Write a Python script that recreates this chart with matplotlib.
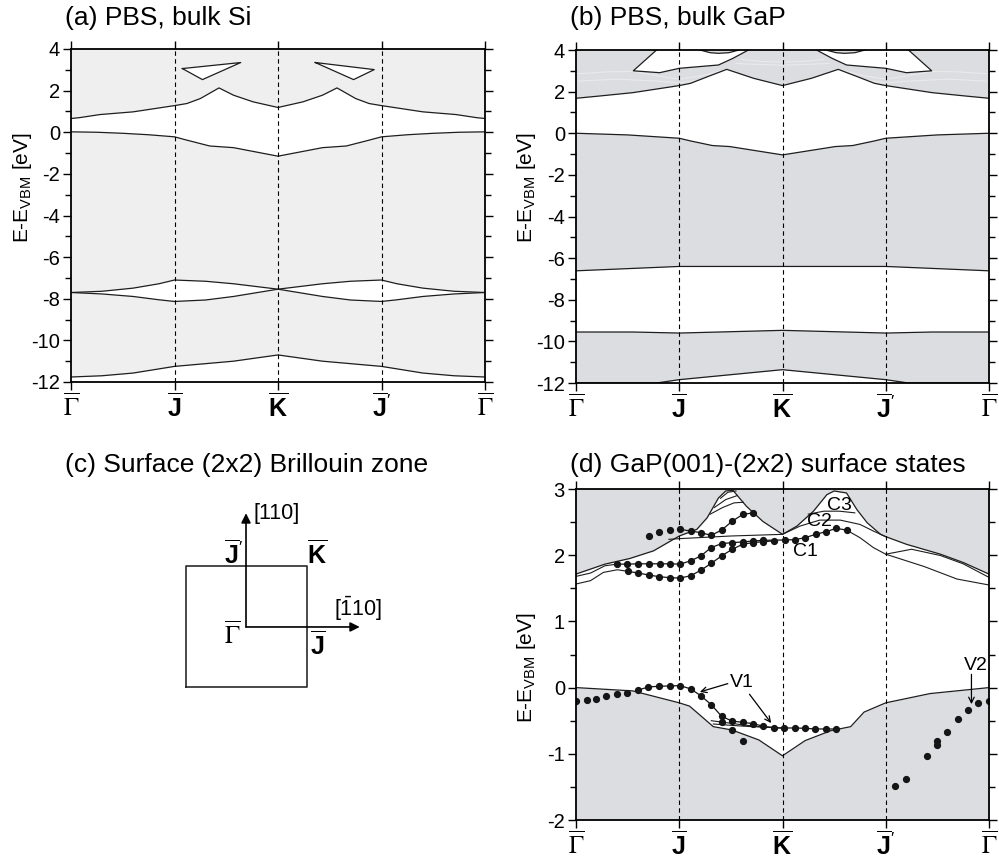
import numpy as np
import matplotlib
matplotlib.use('Agg')
import matplotlib.pyplot as plt
from matplotlib.ticker import MultipleLocator

plt.rcParams['font.family'] = ['Liberation Sans', 'DejaVu Sans']
plt.rcParams['mathtext.fontset'] = 'custom'
plt.rcParams['mathtext.rm'] = 'Liberation Sans'
plt.rcParams['mathtext.bf'] = 'Liberation Sans:bold'
plt.rcParams['mathtext.it'] = 'Liberation Sans:italic'
plt.rcParams['axes.unicode_minus'] = False

# k-path
k_pos = [0, 1, 2, 3, 4]
k_labels = [r'$\overline{\Gamma}$', r'$\overline{\mathbf{J}}$', r'$\overline{\mathbf{K}}$',
            r'$\overline{\mathbf{J}}^{\prime}$', r'$\overline{\Gamma}$']

# ---- (a) bulk Si projected bands ----
a_vb_x = [0, 0.25, 0.5, 0.75, 1.0, 1.12, 1.34, 1.57, 2.0, 2.43, 2.66, 2.88, 3.0, 3.25, 3.5, 3.75, 4.0]
a_vb = [0.02, 0.0, -0.05, -0.12, -0.22, -0.38, -0.66, -0.74, -1.15, -0.74, -0.66, -0.38, -0.22, -0.12, -0.05, 0.0, 0.02]
a_cb_x = [0, 0.08, 0.28, 0.6, 1.0, 1.12, 1.25, 1.43, 1.57, 1.76, 2.0, 2.24, 2.43, 2.57, 2.75, 2.88, 3.0, 3.4, 3.72, 3.92, 4.0]
a_cb = [0.66, 0.70, 0.85, 0.98, 1.28, 1.38, 1.62, 2.13, 1.78, 1.46, 1.19, 1.46, 1.78, 2.13, 1.62, 1.38, 1.28, 0.98, 0.85, 0.70, 0.66]
a_tri_l_x = [1.076, 1.64, 1.27]
a_tri_l_y = [3.06, 3.35, 2.53]
a_tri_r_x = [2.36, 2.93, 2.73]
a_tri_r_y = [3.35, 3.01, 2.53]
a_lens_x = [0, 0.3, 0.6, 0.85, 1.0, 1.3, 1.57, 2.0, 2.43, 2.7, 3.0, 3.15, 3.4, 3.7, 4.0]
a_lens_up = [-7.70, -7.64, -7.49, -7.28, -7.10, -7.16, -7.28, -7.54, -7.28, -7.16, -7.10, -7.28, -7.49, -7.64, -7.70]
a_lens_lo = [-7.70, -7.77, -7.89, -8.05, -8.13, -8.06, -7.89, -7.54, -7.89, -8.06, -8.13, -8.05, -7.89, -7.77, -7.70]
a_low_x = [0, 0.3, 0.6, 1.0, 1.57, 2.0, 2.43, 3.0, 3.4, 3.7, 4.0]
a_low = [-11.76, -11.70, -11.57, -11.25, -11.0, -10.70, -11.0, -11.25, -11.57, -11.70, -11.76]

# ---- (b) bulk GaP projected bands ----
b_vb_x = [0, 0.5, 1.0, 1.11, 1.32, 1.49, 2.0, 2.51, 2.68, 2.89, 3.0, 3.5, 4.0]
b_vb = [0.0, -0.08, -0.24, -0.37, -0.59, -0.64, -1.04, -0.64, -0.59, -0.37, -0.24, -0.08, 0.0]
b_cb_x = [0, 0.23, 0.55, 1.0, 1.11, 1.26, 1.46, 1.72, 2.0, 2.28, 2.54, 2.74, 2.89, 3.0, 3.45, 3.77, 4.0]
b_cb = [1.68, 1.79, 1.95, 2.29, 2.40, 2.69, 3.07, 2.64, 2.29, 2.64, 3.07, 2.69, 2.40, 2.29, 1.95, 1.79, 1.68]
b_hole_l_x = [0.78, 0.555, 0.81, 1.0, 1.38, 1.52, 1.67]
b_hole_l_y = [4.0, 3.0, 2.91, 3.12, 3.28, 3.6, 4.0]
b_hole_r_x = [3.22, 3.445, 3.2, 3.0, 2.62, 2.48, 2.33]
b_hole_r_y = [4.0, 3.0, 2.91, 3.12, 3.28, 3.6, 4.0]
b_lens_l_x = [1.2, 1.3, 1.38, 1.48, 1.58]
b_lens_l_y = [4.0, 3.87, 3.84, 3.87, 4.0]
b_lens_r_x = [2.42, 2.52, 2.6, 2.7, 2.8]
b_lens_r_y = [4.0, 3.87, 3.84, 3.87, 4.0]
b_gap_top_x = [0, 1.0, 2.0, 3.0, 4.0]
b_gap_top = [-6.61, -6.40, -6.40, -6.40, -6.61]
b_gap_bot_x = [0, 0.55, 1.0, 2.0, 3.0, 3.45, 4.0]
b_gap_bot = [-9.55, -9.55, -9.60, -9.47, -9.60, -9.55, -9.55]
b_low_x = [0, 0.78, 1.0, 2.0, 3.0, 3.22, 4.0]
b_low = [-12.0, -12.0, -11.84, -11.36, -11.84, -12.0, -12.0]
# faint resonance lines inside the gray region
b_faint = [
    ([0, 0.3, 0.55, 0.8, 1.0, 1.2, 1.4], [2.85, 2.95, 2.97, 2.75, 2.6, 2.75, 3.0]),
    ([0, 0.4, 0.8, 1.0, 1.2], [2.5, 2.6, 2.5, 2.42, 2.55]),
    ([1.6, 1.8, 2.0, 2.2, 2.4], [3.55, 3.45, 3.42, 3.45, 3.55]),
    ([1.55, 1.8, 2.0, 2.2, 2.45], [3.35, 3.3, 3.27, 3.3, 3.35]),
    ([4.0, 3.7, 3.45, 3.2, 3.0, 2.8, 2.6], [2.85, 2.95, 2.97, 2.75, 2.6, 2.75, 3.0]),
    ([4.0, 3.6, 3.2, 3.0, 2.8], [2.5, 2.6, 2.5, 2.42, 2.55]),
]

# ---- (d) GaP(001)-(2x2) surface states ----
d_vb_x = [0, 0.55, 1.0, 1.1, 1.33, 1.51, 1.77, 2.0, 2.22, 2.47, 2.66, 2.79, 3.0, 3.43, 4.0]
d_vb = [0.0, -0.05, -0.23, -0.28, -0.59, -0.64, -0.79, -1.03, -0.80, -0.65, -0.59, -0.37, -0.23, -0.09, 0.0]
d_cb_x = [0, 0.28, 0.52, 0.75, 1.0, 1.17, 1.27, 1.38, 1.45, 1.52, 1.65, 1.81, 2.0,
          2.14, 2.30, 2.43, 2.5, 2.62, 2.72, 2.82, 2.95, 3.0, 3.2, 3.53, 3.75, 4.0]
d_cb = [1.715, 1.865, 1.95, 2.065, 2.29, 2.39, 2.565, 2.865, 2.97, 2.98, 2.74, 2.51, 2.315,
        2.44, 2.665, 2.915, 2.97, 2.94, 2.69, 2.49, 2.315, 2.28, 2.165, 2.015, 1.89, 1.715]
# thin calculated bands
d_thin = [
    ([0, 0.14, 0.28, 0.395], [1.68, 1.73, 1.84, 1.865]),
    ([0, 0.14, 0.265, 0.40, 0.507], [1.565, 1.615, 1.74, 1.78, 1.755]),
    ([0.9, 1.0, 1.5, 2.0], [2.24, 2.25, 2.29, 2.315]),
    ([1.30, 1.42, 1.53, 1.62], [2.62, 2.72, 2.79, 2.80]),
    ([1.34, 1.45, 1.56], [2.72, 2.84, 2.90]),
    ([1.40, 1.47, 1.55], [2.86, 2.95, 2.97]),
    ([2.0, 2.17, 2.36, 2.56, 2.75, 2.88, 3.0], [2.315, 2.44, 2.53, 2.53, 2.465, 2.365, 2.28]),
    ([2.25, 2.40, 2.55, 2.70], [2.62, 2.665, 2.665, 2.64]),
    ([2.62, 2.75, 2.88, 3.0, 3.37, 3.69, 4.0], [2.38, 2.265, 2.115, 2.015, 1.83, 1.64, 1.55]),
    ([3.0, 3.25, 3.53, 3.75, 4.0], [2.015, 2.09, 1.995, 1.87, 1.665]),
    ([1.31, 1.41, 1.6, 1.8, 2.0], [-0.50, -0.52, -0.56, -0.595, -0.61]),
    ([1.33, 1.5, 1.7, 1.9], [-0.55, -0.57, -0.59, -0.60]),
]
# measured surface states (dots)
c_up_free_x = [0.707, 0.807, 0.911]
c_up_free = [2.29, 2.35, 2.38]
c_up_x = [1.008, 1.111, 1.211, 1.308, 1.411, 1.514, 1.615, 1.715]
c_up = [2.39, 2.365, 2.34, 2.30, 2.38, 2.515, 2.615, 2.64]
c_a_x = [0.395, 0.498, 0.605, 0.709, 0.809, 0.911, 1.008, 1.111, 1.211, 1.308, 1.411, 1.514, 1.614, 1.715, 1.815]
c_a = [1.865, 1.865, 1.87, 1.87, 1.87, 1.87, 1.865, 1.915, 1.99, 2.115, 2.175, 2.19, 2.20, 2.215, 2.225]
c_b_x = [0.507, 0.604, 0.707, 0.807, 0.911, 1.008, 1.111, 1.211, 1.308, 1.411, 1.514, 1.614, 1.715, 1.815, 1.915]
c_b = [1.755, 1.73, 1.70, 1.675, 1.66, 1.655, 1.69, 1.775, 1.875, 1.99, 2.09, 2.165, 2.19, 2.205, 2.215]
c1_x = [2.02, 2.12, 2.22, 2.32, 2.42, 2.52, 2.62]
c1 = [2.23, 2.235, 2.265, 2.315, 2.355, 2.405, 2.38]
v1_free_x = [0, 0.102, 0.198, 0.294, 0.397, 0.496]
v1_free = [-0.2, -0.19, -0.167, -0.131, -0.10, -0.076]
v1_x = [0.598, 0.70, 0.804, 0.911, 1.008, 1.111, 1.211, 1.311, 1.411, 1.512, 1.615, 1.718,
        1.815, 1.919, 2.019, 2.119, 2.219, 2.319, 2.419, 2.52]
v1 = [-0.04, 0.01, 0.02, 0.025, 0.03, -0.02, -0.125, -0.26, -0.435, -0.505, -0.525, -0.545,
      -0.585, -0.61, -0.61, -0.61, -0.615, -0.625, -0.625, -0.625]
v1_low_x = [1.411, 1.512, 1.615]
v1_low = [-0.52, -0.645, -0.80]
v2_x = [3.094, 3.197, 3.398, 3.494, 3.494, 3.597, 3.696, 3.795, 3.898, 4.0]
v2 = [-1.48, -1.38, -1.035, -0.80, -0.864, -0.67, -0.48, -0.333, -0.227, -0.2]

# ---- (c) surface Brillouin zone ----
bz_x = [-1, 1, 1, -1, -1]
bz_y = [-1, -1, 1, 1, -1]

W, H = 999, 860
gray_a = '#efefef'
gray_b = '#dcdde0'
band_c = '#1e1e1e'
fs_k = 18


def px(x, y):
    return x / W, 1 - y / H


def style(ax, ylo, yhi, major, minor):
    ax.set_xlim(0, 4)
    ax.set_ylim(ylo, yhi)
    ax.set_xticks(k_pos)
    ax.set_xticklabels(k_labels)
    ax.yaxis.set_major_locator(MultipleLocator(major))
    ax.yaxis.set_minor_locator(MultipleLocator(minor))
    ax.tick_params(which='both', direction='out', top=True, right=True, width=1)
    ax.tick_params(which='major', length=6)
    ax.tick_params(which='minor', length=4)
    ax.tick_params(axis='y', labelsize=14.5, pad=2)
    ax.tick_params(axis='x', labelsize=fs_k, pad=2)
    for i in (0, 4):
        ax.get_xticklabels()[i].set_math_fontfamily('stix')
    for s in ax.spines.values():
        s.set_linewidth(1.3)
        s.set_zorder(6)
    for k in (1, 2, 3):
        ax.axvline(k, color='k', lw=0.8, ls=(0, (4, 3)), zorder=3)


fig = plt.figure(figsize=(W / 100, H / 100), dpi=100)

# (a)
ax_a = fig.add_axes([71 / W, 1 - 382 / H, 414 / W, 333 / H])
ax_a.set_facecolor(gray_a)
ax_a.fill(np.r_[a_vb_x, a_cb_x[::-1]], np.r_[a_vb, a_cb[::-1]], color='white', lw=0, zorder=1)
ax_a.fill(a_tri_l_x, a_tri_l_y, color='white', lw=0, zorder=1)
ax_a.fill(a_tri_r_x, a_tri_r_y, color='white', lw=0, zorder=1)
ax_a.fill(np.r_[a_lens_x, a_lens_x[::-1]], np.r_[a_lens_up, a_lens_lo[::-1]], color='white', lw=0, zorder=1)
ax_a.fill_between(a_low_x, a_low, -12, color='white', lw=0, zorder=1)
for xs, ys in [(a_vb_x, a_vb), (a_cb_x, a_cb), (a_lens_x, a_lens_up), (a_lens_x, a_lens_lo), (a_low_x, a_low)]:
    ax_a.plot(xs, ys, color=band_c, lw=0.9, zorder=2)
ax_a.plot(a_tri_l_x + a_tri_l_x[:1], a_tri_l_y + a_tri_l_y[:1], color=band_c, lw=0.9, zorder=2)
ax_a.plot(a_tri_r_x + a_tri_r_x[:1], a_tri_r_y + a_tri_r_y[:1], color=band_c, lw=0.9, zorder=2)
style(ax_a, -12, 4, 2, 1)

# (b)
ax_b = fig.add_axes([576 / W, 1 - 383 / H, 413 / W, 333 / H])
ax_b.set_facecolor(gray_b)
for xs, ys in b_faint:
    ax_b.plot(xs, ys, color='#eaeaec', lw=0.8, zorder=0.5)
ax_b.fill(np.r_[b_vb_x, b_cb_x[::-1]], np.r_[b_vb, b_cb[::-1]], color='white', lw=0, zorder=1)
ax_b.fill(b_hole_l_x, b_hole_l_y, color='white', lw=0, zorder=1)
ax_b.fill(b_hole_r_x, b_hole_r_y, color='white', lw=0, zorder=1)
ax_b.fill(b_lens_l_x, b_lens_l_y, color=gray_b, lw=0, zorder=1.2)
ax_b.fill(b_lens_r_x, b_lens_r_y, color=gray_b, lw=0, zorder=1.2)
ax_b.fill(np.r_[b_gap_top_x, b_gap_bot_x[::-1]], np.r_[b_gap_top, b_gap_bot[::-1]], color='white', lw=0, zorder=1)
ax_b.fill_between(b_low_x, b_low, -12.2, color='white', lw=0, zorder=1)
for xs, ys in [(b_vb_x, b_vb), (b_cb_x, b_cb), (b_hole_l_x, b_hole_l_y), (b_hole_r_x, b_hole_r_y),
               (b_lens_l_x, b_lens_l_y), (b_lens_r_x, b_lens_r_y), (b_gap_top_x, b_gap_top),
               (b_gap_bot_x, b_gap_bot), (b_low_x, b_low)]:
    ax_b.plot(xs, ys, color=band_c, lw=0.9, zorder=2)
style(ax_b, -12, 4, 2, 1)

# (d)
ax_d = fig.add_axes([576 / W, 1 - 820 / H, 413 / W, 331 / H])
ax_d.fill_between(d_vb_x, d_vb, -2.2, color=gray_b, lw=0, zorder=1)
ax_d.fill_between(d_cb_x, d_cb, 3.2, color=gray_b, lw=0, zorder=1)
ax_d.plot(d_vb_x, d_vb, color=band_c, lw=0.9, zorder=2)
ax_d.plot(d_cb_x, d_cb, color=band_c, lw=0.9, zorder=2)
for xs, ys in d_thin:
    ax_d.plot(xs, ys, color=band_c, lw=0.8, zorder=2)
dot = dict(color='#151515', marker='o', ms=4.2, zorder=4)
ax_d.plot(c_up_free_x, c_up_free, ls='none', **dot)
ax_d.plot(c_up_x, c_up, lw=0.9, **dot)
ax_d.plot(c_a_x + c1_x, c_a + c1, lw=0.9, **dot)
ax_d.plot(c_b_x, c_b, lw=0.9, **dot)
ax_d.plot(v1_free_x, v1_free, ls='none', **dot)
ax_d.plot(v1_x, v1, lw=0.9, **dot)
ax_d.plot(v1_low_x, v1_low, ls='none', **dot)
ax_d.plot(v2_x, v2, ls='none', **dot)
arr = dict(arrowstyle='->', color='k', lw=0.9, shrinkA=0, shrinkB=0, mutation_scale=10)
ax_d.annotate('', xy=(1.20, -0.065), xytext=(1.47, 0.06), arrowprops=arr, zorder=5)
ax_d.annotate('', xy=(1.89, -0.535), xytext=(1.68, -0.10), arrowprops=arr, zorder=5)
ax_d.annotate('', xy=(3.83, -0.25), xytext=(3.83, 0.20), arrowprops=arr, zorder=5)
ax_d.text(1.61, 0.08, 'V1', fontsize=14, ha='center', va='center', zorder=5)
ax_d.text(3.87, 0.34, 'V2', fontsize=14, ha='center', va='center', zorder=5)
ax_d.text(2.22, 2.06, 'C1', fontsize=14, ha='center', va='center', zorder=5)
ax_d.text(2.36, 2.51, 'C2', fontsize=14, ha='center', va='center', zorder=5)
ax_d.text(2.55, 2.75, 'C3', fontsize=14, ha='center', va='center', zorder=5)
style(ax_d, -2, 3, 1, 0.5)

# (c)
ax_c = fig.add_axes([150 / W, 1 - 700 / H, 270 / W, 210 / H])
ax_c.set_xlim(-1.587, 2.876)
ax_c.set_ylim(-1.207, 2.264)
ax_c.axis('off')
ax_c.plot(bz_x, bz_y, color='#2a2a2a', lw=1.2)
arr_c = dict(arrowstyle='-|>', color='k', lw=1.2, shrinkA=0, shrinkB=0, mutation_scale=14)
ax_c.annotate('', xy=(0, 1.88), xytext=(0, 0), arrowprops=arr_c)
ax_c.annotate('', xy=(1.88, 0), xytext=(0, 0), arrowprops=arr_c)
ax_c.text(0.13, 1.87, '[110]', fontsize=15.5, ha='left', va='center')
ax_c.text(1.45, 0.30, r'[$\bar{1}$10]', fontsize=15.5, ha='left', va='center')
ax_c.text(-0.2, 1.2, k_labels[3], fontsize=fs_k, ha='center', va='center')
ax_c.text(1.17, 1.2, k_labels[2], fontsize=fs_k, ha='center', va='center')
ax_c.text(1.19, -0.3, k_labels[1], fontsize=fs_k, ha='center', va='center')
g = ax_c.text(-0.23, -0.12, k_labels[0], fontsize=fs_k, ha='center', va='center')
g.set_math_fontfamily('stix')

# titles and axis labels
fs_title = 19
fig.text(*px(65, 18), '(a) PBS, bulk Si', fontsize=fs_title, ha='left', va='center')
fig.text(*px(570, 18), '(b) PBS, bulk GaP', fontsize=fs_title, ha='left', va='center')
fig.text(*px(65, 465), '(c) Surface (2x2) Brillouin zone', fontsize=fs_title, ha='left', va='center')
fig.text(*px(570, 465), '(d) GaP(001)-(2x2) surface states', fontsize=fs_title, ha='left', va='center')
ylab = r'E-E$_{\mathrm{VBM}}$ [eV]'
fig.text(*px(22, 188), ylab, fontsize=15, rotation=90, ha='center', va='center')
fig.text(*px(527, 188), ylab, fontsize=15, rotation=90, ha='center', va='center')
fig.text(*px(527, 668), ylab, fontsize=15, rotation=90, ha='center', va='center')

fig.savefig('out.png', dpi=100)
